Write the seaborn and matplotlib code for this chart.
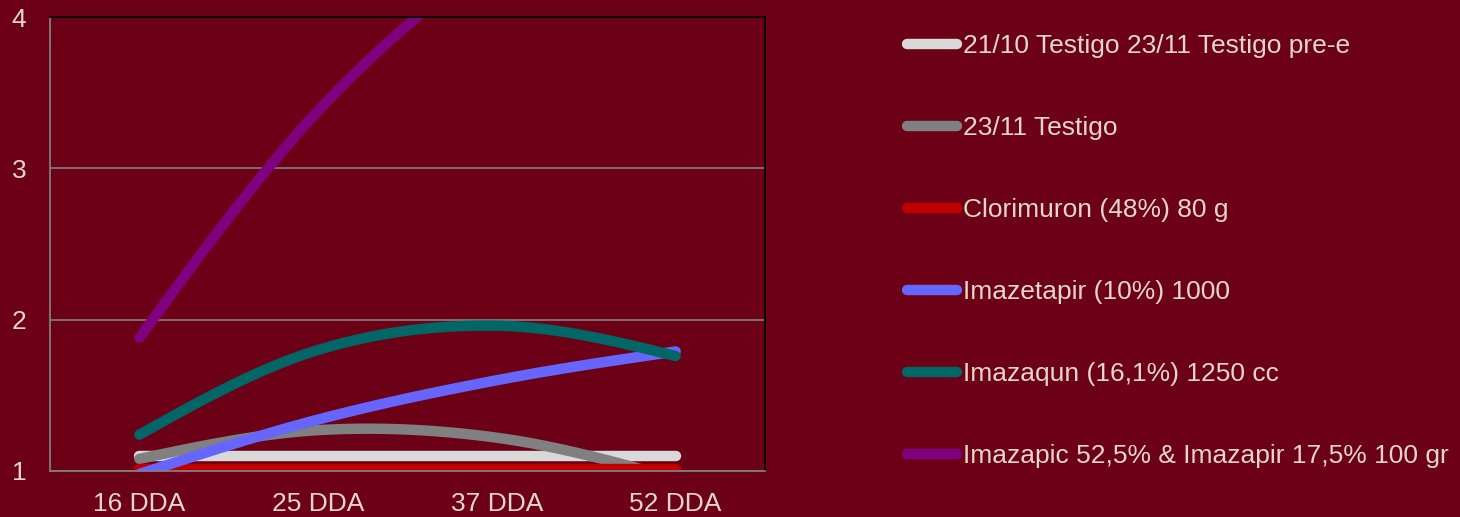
import numpy as np
import pandas as pd
import matplotlib
matplotlib.use("Agg")
import matplotlib.pyplot as plt
import seaborn as sns
from matplotlib.lines import Line2D

categories = ["16 DDA", "25 DDA", "37 DDA", "52 DDA"]
series_names = [
    "21/10 Testigo 23/11 Testigo pre-e",
    "23/11 Testigo",
    "Clorimuron (48%) 80 g",
    "Imazetapir (10%) 1000",
    "Imazaqun (16,1%) 1250 cc",
    "Imazapic 52,5% & Imazapir 17,5% 100 gr",
]
testigo_pre = [1.10, 1.10, 1.10, 1.10]
testigo = [1.08, 1.27, 1.22, 0.95]
clorimuron = [1.01, 1.01, 1.01, 1.01]
imazetapir = [0.98, 1.34, 1.60, 1.79]
imazaqun = [1.24, 1.80, 1.96, 1.76]
imazapic = [1.88, 3.38, 4.40, 5.00]
yticks = [1, 2, 3, 4]

colors = ["#D9D9D9", "#808080", "#C00000", "#6666FF", "#006666", "#800080"]
bg = "#6B0016"
txt = "#E6D6CA"

all_series = [testigo_pre, testigo, clorimuron, imazetapir, imazaqun, imazapic]


def smooth(vals, n=60):
    """Hermite spline through the points (Excel-like smoothed line)."""
    p = np.asarray(vals, float)
    k = len(p)
    m = np.zeros(k)
    for i in range(1, k - 1):
        m[i] = (p[i + 1] - p[i - 1]) / 2
    m[0] = (3 * (p[1] - p[0]) - m[1]) / 2
    m[-1] = (3 * (p[-1] - p[-2]) - m[-2]) / 2
    xs, ys = [], []
    for i in range(k - 1):
        t = np.linspace(0, 1, n, endpoint=(i == k - 2))
        h00 = 2 * t**3 - 3 * t**2 + 1
        h10 = t**3 - 2 * t**2 + t
        h01 = -2 * t**3 + 3 * t**2
        h11 = t**3 - t**2
        ys.append(h00 * p[i] + h10 * m[i] + h01 * p[i + 1] + h11 * m[i + 1])
        xs.append(i + t)
    return np.concatenate(xs), np.concatenate(ys)


rows = []
for name, vals in zip(series_names, all_series):
    xs, ys = smooth(vals)
    for x, y in zip(xs, ys):
        rows.append({"x": x, "y": y, "serie": name})
df = pd.DataFrame(rows)

sns.set_theme(style="white")
plt.rcParams["font.family"] = ["Liberation Sans", "DejaVu Sans"]

LW = 7.5
fig = plt.figure(figsize=(14.6, 5.17), dpi=100, facecolor=bg)
ax = fig.add_axes([50 / 1460, 1 - 471 / 517, 715 / 1460, 454 / 517])
ax.set_facecolor(bg)

for name, col in zip(series_names, colors):
    sub = df[df["serie"] == name]
    sns.lineplot(data=sub, x="x", y="y", color=col, linewidth=LW, sort=False,
                 estimator=None, ax=ax, legend=False,
                 solid_capstyle="round")

ax.set_xlim(-0.5, 3.5)
ax.set_ylim(1, 4)
ax.set_xticks(range(len(categories)))
ax.set_xticklabels(categories)
ax.set_yticks(yticks)
ax.set_xlabel("")
ax.set_ylabel("")
ax.tick_params(axis="both", length=0, labelsize=19, colors=txt)
ax.tick_params(axis="y", pad=17)
ax.tick_params(axis="x", pad=15)
ax.grid(axis="y", color="#808080", linewidth=1.2)
ax.grid(axis="x", visible=False)
ax.spines["left"].set_color("#808080")
ax.spines["bottom"].set_color("#808080")
ax.spines["top"].set_color("#000000")
ax.spines["right"].set_color("#000000")
for s in ax.spines.values():
    s.set_linewidth(1.3)
    s.set_visible(True)

handles = [Line2D([0], [0], color=c, linewidth=LW, solid_capstyle="round")
           for c in colors]
leg = fig.legend(handles, series_names, loc="upper left",
                 bbox_to_anchor=(907 / 1460, 1 - 34 / 517),
                 frameon=False, fontsize=19, handlelength=1.9,
                 handletextpad=0.22, labelspacing=2.2, borderpad=0,
                 borderaxespad=0)
for t in leg.get_texts():
    t.set_color(txt)

fig.savefig("out.png", dpi=100, facecolor=bg)
